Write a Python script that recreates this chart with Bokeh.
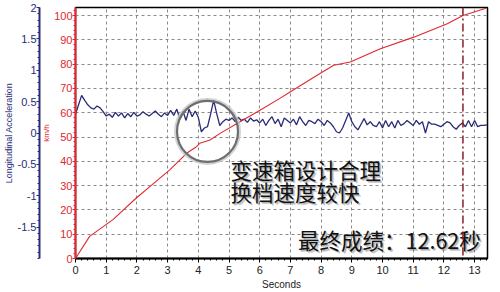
from bokeh.plotting import figure
from bokeh.models import Range1d, LinearAxis, SingleIntervalTicker, FixedTicker, Span
from bokeh.core.properties import value
from bokeh.embed import file_html
from bokeh.resources import INLINE

# ---- data ----
speed_t = [0, 0.46, 0.89, 1.22, 1.98, 2.42, 3.07, 3.62, 3.94, 4.05, 4.38, 4.71,
           5.36, 6.01, 6.67, 6.99, 7.87, 8.41, 8.95, 9.93, 11.02, 12.11, 12.62, 13.37]
speed_kmh = [0, 9.1, 13, 16, 24.9, 29.6, 36.5, 43.3, 46, 47.4, 48.8, 51.5,
             56.3, 61, 66, 68.5, 75.4, 79.5, 80.9, 86.3, 91.1, 96.6, 100, 103]

acc_t = [round(i * 0.1, 1) for i in range(135)]
acc_g = [0.30, 0.45, 0.60, 0.52, 0.45, 0.40, 0.38, 0.43, 0.40, 0.34, 0.27,
         0.30, 0.25, 0.33, 0.27, 0.32, 0.24, 0.31, 0.26, 0.33, 0.27,
         0.29, 0.34, 0.30, 0.27, 0.31, 0.35, 0.30, 0.26, 0.32, 0.28,
         0.36, 0.28, 0.38, 0.22, 0.35, 0.20, 0.38, 0.26, 0.35, 0.25,
         0.02, 0.08, 0.10, 0.30, 0.52, 0.31, 0.12, 0.18, 0.22, 0.20,
         0.24, 0.18, 0.25, 0.20, 0.22, 0.17, 0.24, 0.19, 0.21, 0.16,
         0.22, 0.12, 0.20, 0.26, 0.15, 0.22, 0.10, 0.24, 0.20, 0.16,
         0.22, 0.13, 0.26, 0.18, 0.12, 0.20, 0.18, 0.15, 0.22, 0.18,
         0.12, 0.20, 0.16, 0.10, 0.02, 0.00, 0.08, 0.20, 0.32, 0.18,
         0.10, 0.05, 0.14, 0.23, 0.13, 0.18, 0.12, 0.10, 0.18, 0.08,
         0.20, 0.10, 0.18, 0.08, 0.20, 0.12, 0.15, 0.20, 0.16, 0.12,
         0.20, 0.14, 0.18, 0.00, 0.18, 0.14, 0.14, 0.12, 0.10, 0.14,
         0.18, 0.16, 0.10, 0.06, 0.12, 0.16, 0.10, 0.20, 0.10, 0.20,
         0.10, 0.12, 0.12, 0.13]

final_time = 12.62
acc_ticks = [-1.5, -1, -0.5, 0, 0.5, 1, 1.5, 2]
acc_tick_labels = ["-1.5", "-1", "-0.5", "0", "0.5", "1", "1.5", "2"]
speed_ticks = [0, 10, 20, 30, 40, 50, 60, 70, 80, 90, 100]

note_lines = ["变速箱设计合理", "换档速度较快"]
note_x = [5.05, 5.05]
note_y = [36.5, 27.5]
result_text = ["最终成绩：12.62秒"]
result_x = [13.2]
result_y = [7.8]
circle_x = [4.3]
circle_y = [52.3]

x_label = "Seconds"
speed_label = "km/h"
acc_label = "Longitudinal Acceleration"

RED = "#e0282f"
NAVY = "#2b2b78"
AXIS_FONT = "Liberation Sans"
CJK = "Noto Sans CJK SC"

p = figure(width=500, height=292, x_range=Range1d(0, 13.42), y_range=Range1d(0, 103.3),
           output_backend="svg", toolbar_location=None,
           min_border_top=7, min_border_right=13, min_border_left=0, min_border_bottom=0)
p.extra_y_ranges = {"acc": Range1d(-2, 2)}
p.outline_line_color = "black"
p.outline_line_width = 1.5
p.background_fill_color = "white"
p.border_fill_color = "white"

# x axis
xa = p.xaxis[0]
xa.ticker = SingleIntervalTicker(interval=1, num_minor_ticks=5)
xa.axis_label = x_label
xa.axis_line_color = "black"
xa.axis_line_width = 2
xa.major_tick_out = 4
xa.major_tick_in = 0
xa.minor_tick_out = 2
xa.minor_tick_in = 0
xa.major_label_text_font = AXIS_FONT
xa.major_label_text_font_size = "11px"
xa.major_label_text_color = "#222"
xa.major_label_standoff = 3
xa.axis_label_text_font = AXIS_FONT
xa.axis_label_text_font_size = "10px"
xa.axis_label_text_font_style = "normal"
xa.axis_label_standoff = 2
xa.axis_label_text_color = "#222"

# speed axis (inner left)
ya = p.yaxis[0]
ya.ticker = FixedTicker(ticks=speed_ticks, minor_ticks=list(range(0, 104, 2)))
ya.axis_label = speed_label
ya.axis_line_color = RED
ya.axis_line_width = 2
ya.major_tick_line_color = RED
ya.minor_tick_line_color = RED
ya.major_tick_out = 3
ya.major_tick_in = 0
ya.minor_tick_out = 2
ya.minor_tick_in = 0
ya.major_label_text_color = RED
ya.major_label_text_font = AXIS_FONT
ya.major_label_text_font_size = "11px"
ya.major_label_standoff = 0
ya.axis_label_text_color = RED
ya.axis_label_text_font = AXIS_FONT
ya.axis_label_text_font_size = "8px"
ya.axis_label_text_font_style = "normal"
ya.axis_label_standoff = 0

# acceleration axis (outer left)
aa = LinearAxis(y_range_name="acc", axis_label=acc_label,
                ticker=FixedTicker(ticks=acc_ticks,
                                   minor_ticks=[round(-2 + 0.1 * i, 1) for i in range(41)]))
aa.major_label_overrides = {t: l for t, l in zip(acc_ticks, acc_tick_labels)}
aa.axis_line_color = NAVY
aa.axis_line_width = 2
aa.major_tick_line_color = NAVY
aa.minor_tick_line_color = NAVY
aa.major_tick_out = 3
aa.major_tick_in = 0
aa.minor_tick_out = 2
aa.minor_tick_in = 0
aa.major_label_text_color = NAVY
aa.major_label_text_font = AXIS_FONT
aa.major_label_text_font_size = "11px"
aa.major_label_standoff = 0
aa.axis_label_text_color = NAVY
aa.axis_label_text_font = AXIS_FONT
aa.axis_label_text_font_size = "9px"
aa.axis_label_text_font_style = "normal"
aa.axis_label_standoff = 1
p.add_layout(aa, "left")

# grids
p.xgrid.ticker = SingleIntervalTicker(interval=1)
p.ygrid.ticker = FixedTicker(ticks=speed_ticks)
for g in (p.xgrid, p.ygrid):
    g.grid_line_color = "#8a8a8a"
    g.grid_line_dash = "3 3"
    g.grid_line_width = 1

# series
p.line(acc_t, acc_g, y_range_name="acc", line_color=NAVY, line_width=1.3)
p.line(speed_t, speed_kmh, line_color=RED, line_width=1.1)

# 100 km/h marker
p.add_layout(Span(location=final_time, dimension="height", line_color="#8b1d24",
                  line_width=1.5, line_dash="8 3 2 3"))

# highlight circle
p.scatter(circle_x, circle_y, marker="circle", size=64, fill_color=None,
          line_color="#c8c8c8", line_width=3, line_alpha=0.8)
p.scatter(circle_x, circle_y, marker="circle", size=61, fill_color=None,
          line_color="#6e6e6e", line_width=2.2)

# annotation texts with soft shadow
for dx, dy, col, alpha in [(2, 2, "#555555", 0.3), (1, 1, "#555555", 0.35), (0, 0, "#111111", 1.0)]:
    p.text(note_x, note_y, text=note_lines, text_font=value(CJK), text_font_size="21.5px",
           text_baseline="middle", text_align="left", text_color=col, text_alpha=alpha,
           x_offset=dx, y_offset=dy)
    p.text(result_x, result_y, text=result_text, text_font=value(CJK), text_font_size="21.5px",
           text_baseline="middle", text_align="right", text_color=col, text_alpha=alpha,
           x_offset=dx, y_offset=dy)

open("out.html", "w").write(file_html(p, INLINE))
